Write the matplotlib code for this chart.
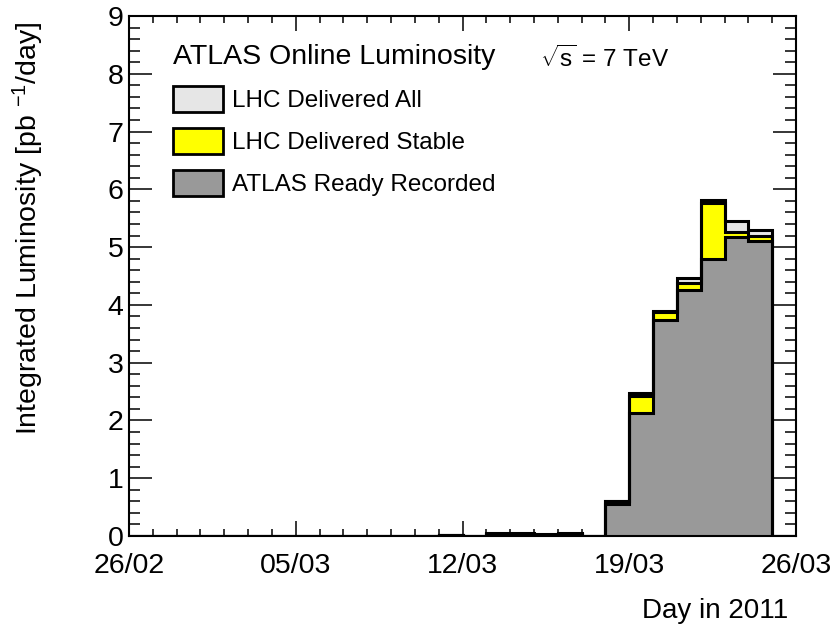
import numpy as np
import pandas as pd
import matplotlib
matplotlib.use("Agg")
import matplotlib.pyplot as plt
import matplotlib.dates as mdates
from matplotlib.patches import Patch
from matplotlib.ticker import MultipleLocator, FixedLocator

plt.rcParams['font.family'] = ['Liberation Sans', 'DejaVu Sans']
plt.rcParams['mathtext.fontset'] = 'custom'
plt.rcParams['mathtext.rm'] = 'Liberation Sans'
plt.rcParams['mathtext.it'] = 'Liberation Sans:italic'
plt.rcParams['mathtext.bf'] = 'Liberation Sans:bold'

# ---- data (one bin per day, starting 26/02/2011) ----
first_day = "2011-02-26"
n_days = 28
delivered_all = [0, 0, 0, 0, 0, 0, 0, 0, 0, 0, 0, 0, 0, 0.02,
                 0, 0.05, 0.05, 0.03, 0.05, 0, 0.61, 2.47, 3.90, 4.46,
                 5.81, 5.45, 5.29, 0]
delivered_stable = [0, 0, 0, 0, 0, 0, 0, 0, 0, 0, 0, 0, 0, 0.02,
                    0, 0.04, 0.04, 0.02, 0.04, 0, 0.60, 2.43, 3.87, 4.38,
                    5.77, 5.27, 5.20, 0]
ready_recorded = [0, 0, 0, 0, 0, 0, 0, 0, 0, 0, 0, 0, 0, 0.015,
                  0, 0.03, 0.03, 0.02, 0.03, 0, 0.55, 2.13, 3.74, 4.25,
                  4.80, 5.18, 5.10, 0]
series_labels = ["LHC Delivered All", "LHC Delivered Stable", "ATLAS Ready Recorded"]
series_colors = ["#e6e6e6", "#ffff00", "#999999"]
y_max = 9

edges = mdates.date2num(pd.date_range(first_day, periods=n_days + 1).to_pydatetime())

fig = plt.figure(figsize=(8.35, 6.24), dpi=100)
ax = fig.add_axes([129/835, 88/624, (796-129)/835, (536-16)/624])

for vals, col in zip([delivered_all, delivered_stable, ready_recorded], series_colors):
    ax.stairs(vals, edges, fill=True, color=col, zorder=2)
    ax.stairs(vals, edges, fill=False, color='black', lw=2.2, baseline=0, zorder=3)

ax.set_xlim(edges[0], edges[-1])
ax.set_ylim(0, y_max)

ax.xaxis.set_major_locator(FixedLocator(edges[::7]))
ax.xaxis.set_minor_locator(FixedLocator(edges))
ax.xaxis.set_major_formatter(mdates.DateFormatter('%d/%m'))
ax.yaxis.set_major_locator(MultipleLocator(1))
ax.yaxis.set_minor_locator(MultipleLocator(0.2))

ax.tick_params(axis='both', which='both', direction='in', top=True, right=True,
               labelsize=20.5, color='black')
ax.tick_params(axis='x', which='major', length=11, width=1.1, pad=12)
ax.tick_params(axis='x', which='minor', length=5, width=1.1)
ax.tick_params(axis='y', which='major', length=16.5, width=1.1, pad=4)
ax.tick_params(axis='y', which='minor', length=8, width=1.1)
for s in ax.spines.values():
    s.set_linewidth(1.5)
    s.set_zorder(5)

handles = [Patch(facecolor=c, edgecolor='black', lw=2) for c in series_colors]
leg = ax.legend(handles, series_labels, title="ATLAS Online Luminosity",
                loc='upper left', bbox_to_anchor=(0.066, 0.946), frameon=False,
                fontsize=17.5, title_fontsize=20.5, handlelength=2.06, handleheight=1.25,
                labelspacing=0.66, handletextpad=0.36, borderpad=0, borderaxespad=0,
                alignment='left')

ax.text((540-129)/667, 1-(67-16)/520, r'$\sqrt{\mathrm{s}}$ = 7 TeV', fontsize=17.5,
        transform=ax.transAxes, ha='left', va='baseline')

fig.text(28/835, 1-22/624, r'Integrated Luminosity [pb $^{-1}$/day]', rotation=90,
         ha='center', va='top', fontsize=20.5)
fig.text(788/835, (624-618)/624, 'Day in 2011', ha='right', va='baseline', fontsize=20)

fig.savefig('out.png', dpi=100)
